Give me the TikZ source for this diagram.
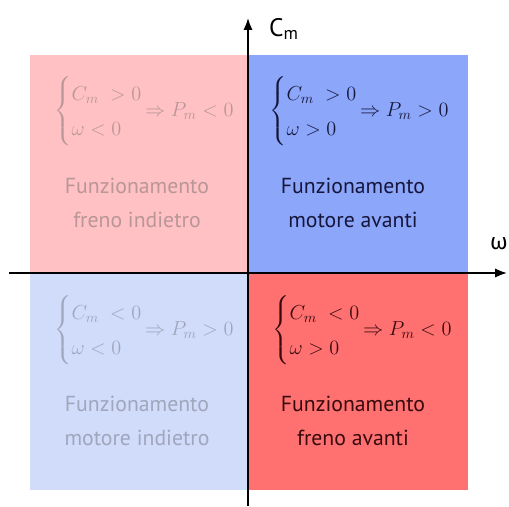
\RequirePackage{fix-cm}
\documentclass[tikz,border=0pt]{standalone}
\usepackage{amsmath}
\usepackage{fontspec}
\setmainfont{PT Sans}
\newfontfamily\greco{Fira Sans}
\usetikzlibrary{arrows.meta}
\definecolor{rosa}{RGB}{255,193,196}
\definecolor{blu}{RGB}{140,166,250}
\definecolor{azzurro}{RGB}{209,219,250}
\definecolor{rosso}{RGB}{255,112,112}
\definecolor{testoblu}{RGB}{22,22,60}
\definecolor{testorosso}{RGB}{55,10,14}
\definecolor{grigiorosa}{RGB}{185,150,152}
\definecolor{grigioblu}{RGB}{160,166,188}
\tikzset{
  etichetta/.style={align=center,font=\fontsize{16.3}{26}\selectfont},
  condizione/.style={font=\fontsize{15.2}{26}\selectfont}
}
\newcommand{\sistema}[3]{$\left\{\begin{array}{@{}l@{}}C_m\;#1 0\\ \omega #2 0\end{array}\right.\!\Rightarrow P_m #3 0$}
\begin{document}
\begin{tikzpicture}[x=0.75pt,y=0.75pt]
\useasboundingbox (-248,-233) rectangle (261,273);
\foreach \col/\xa/\ya/\xb/\yb in {rosa/-218/0/0/218,blu/0/0/220/218,azzurro/-218/-217/0/0,rosso/0/-217/220/0}
{
  \fill[\col] (\xa,\ya) rectangle (\xb,\yb);
}
\coordinate (ovest) at (-239,0);
\coordinate (est) at (259,0);
\coordinate (sud) at (0,-233);
\coordinate (nord) at (0,255);
\draw[line width=1.3pt,-{Latex[length=9pt,width=7pt]}] (ovest) -- (est);
\draw[line width=1.3pt,-{Latex[length=9pt,width=7pt]}] (sud) -- (nord);
\node[font=\fontsize{19}{20}\selectfont] (cm) at (36,244) {C\textsubscript{m}};
\node[font=\fontsize{17}{20}\selectfont\greco] (om) at (251,29) {ω};
\node[condizione,text=testoblu] (c1) at (111,162) {\sistema{>}{>}{>}};
\node[condizione,text=grigiorosa] (c2) at (-104,162) {\sistema{>}{<}{<}};
\node[condizione,text=grigioblu] (c3) at (-104,-57) {\sistema{<}{<}{>}};
\node[condizione,text=testorosso] (c4) at (114,-57) {\sistema{<}{>}{<}};
\node[etichetta,text=testoblu] (f1) at (105,70) {Funzionamento\\motore avanti};
\node[etichetta,text=grigiorosa] (f2) at (-111,70) {Funzionamento\\freno indietro};
\node[etichetta,text=grigioblu] (f3) at (-111,-148) {Funzionamento\\motore indietro};
\node[etichetta,text=testorosso] (f4) at (105,-148) {Funzionamento\\freno avanti};
\end{tikzpicture}
\end{document}
